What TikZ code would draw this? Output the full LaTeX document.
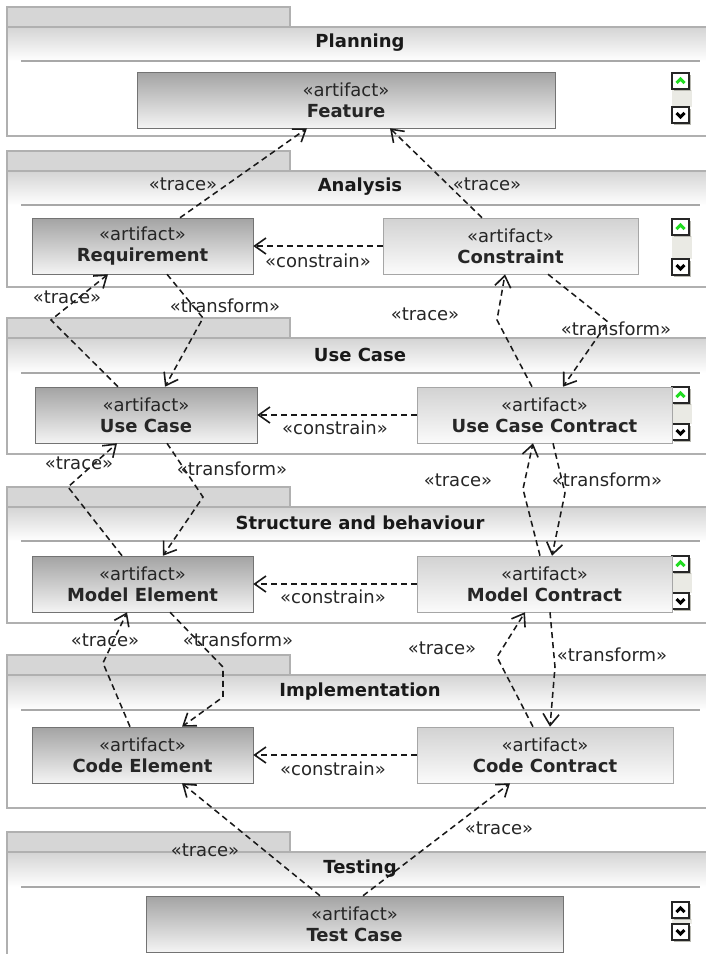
\documentclass[tikz,border=0pt]{standalone}
\usepackage{fontspec}
\setmainfont{DejaVu Sans}
\usetikzlibrary{arrows.meta}
\definecolor{tabgray}{HTML}{D6D6D6}
\definecolor{laneline}{HTML}{B0B0B0}
\definecolor{bandtop}{HTML}{D4D4D4}
\definecolor{rulegray}{HTML}{A8A8A8}
\definecolor{darktop}{HTML}{A3A3A3}
\definecolor{darkbot}{HTML}{F4F4F4}
\definecolor{lighttop}{HTML}{D2D2D2}
\definecolor{lightbot}{HTML}{FBFBFB}
\definecolor{trackgray}{HTML}{EAEAE4}
\definecolor{shadowgray}{HTML}{B8B8B0}
\definecolor{upgreen}{HTML}{22DD22}
\tikzset{art/.append style={draw=black!55,top color=darktop,bottom color=darkbot,
  minimum height=42pt,inner sep=2pt,align=center,text=black!85,
  font=\fontsize{13.5}{16}\selectfont}}
\tikzset{artl/.append style={art,draw=black!35,top color=lighttop,bottom color=lightbot}}
\tikzset{lbl/.append style={inner sep=0pt,text=black!85,font=\fontsize{13.5}{16}\selectfont}}
\tikzset{lanetitle/.append style={inner sep=0pt,text=black!90,font=\fontsize{13.5}{16}\selectfont\bfseries}}
\tikzset{dep/.append style={draw=black!90,line width=1.15pt,dash pattern=on 4.5pt off 3pt,
  -{Straight Barb[length=8.5pt,width=12pt,line width=1.2pt]}}}
% lane: tab top, rule y, bottom, name, title
\newcommand{\lane}[5]{%
  \filldraw[fill=tabgray,draw=laneline,line width=0.9pt] (7,#1) rectangle (290,{#1+20});
  \shade[top color=bandtop,bottom color=white] (7,{#1+20}) rectangle (707,#2);
  \draw[laneline,line width=0.9pt] (7,{#1+20}) rectangle (708,#3);
  \draw[rulegray,line width=0.8pt] (21,#2) -- (700,#2);
  \node[lanetitle] (#4) at (360,{(#1+20+#2)/2-1}) {#5};}
% scroll buttons: up top, down top, up colour
\newcommand{\scrollbtns}[3]{%
  \fill[trackgray] (672,{#1+17}) rectangle (692,#2);
  \foreach \yy/\cc/\dd in {#1/#3/1,#2/black/-1} {
    \fill[shadowgray] (674,{\yy+2}) rectangle (691,{\yy+18});
    \filldraw[fill=white,draw=black!85,line width=0.9pt] (672,\yy) rectangle (689,{\yy+16});
    \draw[\cc,line width=2.2pt] (676.5,{\yy+8+2*\dd}) -- (680.5,{\yy+8-2*\dd}) -- (684.5,{\yy+8+2*\dd});
  }}
\begin{document}
\begin{tikzpicture}[x=0.75pt,y=-0.75pt]
\useasboundingbox (0,0) rectangle (706,954);
% lanes
\lane{7}{61}{136}{planning}{Planning}
\lane{151}{205}{287}{analysis}{Analysis}
\lane{318}{373}{454}{usecase}{Use Case}
\lane{487}{541}{623}{structure}{Structure and behaviour}
\lane{655}{710}{808}{implementation}{Implementation}
\lane{832}{887}{960}{testing}{Testing}
\scrollbtns{73}{107}{upgreen}
\scrollbtns{219}{259}{upgreen}
\scrollbtns{387}{424}{upgreen}
\scrollbtns{556}{593}{upgreen}
\scrollbtns{902}{924}{black}
% artifacts
\node[art,minimum width=313.5pt] (feature) at (346,100) {«artifact»\\\textbf{Feature}};
\node[art,minimum width=165.75pt] (req) at (142.5,246) {«artifact»\\\textbf{Requirement}};
\node[artl,minimum width=191.25pt] (constr) at (510.5,246) {«artifact»\\\textbf{Constraint}};
\node[art,minimum width=166.5pt] (uc) at (146,415) {«artifact»\\\textbf{Use Case}};
\node[artl,minimum width=191.25pt] (ucc) at (544.5,415) {«artifact»\\\textbf{Use Case Contract}};
\node[art,minimum width=165.75pt] (melem) at (142.5,584) {«artifact»\\\textbf{Model Element}};
\node[artl,minimum width=191.25pt] (mcon) at (544.5,584) {«artifact»\\\textbf{Model Contract}};
\node[art,minimum width=165.75pt] (celem) at (142.5,755) {«artifact»\\\textbf{Code Element}};
\node[artl,minimum width=192pt] (ccon) at (545,755) {«artifact»\\\textbf{Code Contract}};
\node[art,minimum width=312.75pt] (tcase) at (354.5,924) {«artifact»\\\textbf{Test Case}};
% dependencies
\draw[dep] (req.north -| 180,0) -- (feature.south -| 307,0);
\draw[dep] (constr.north -| 482,0) -- (feature.south -| 390,0);
\draw[dep] (constr.west) -- (constr.west -| req.east);
\draw[dep] (uc.north -| 118,0) -- (51,320) -- (req.south -| 108,0);
\draw[dep] (req.south -| 167,0) -- (203,318) -- (uc.north -| 165,0);
\draw[dep] (ucc.north -| 532,0) -- (497,320) -- (constr.south -| 505,0);
\draw[dep] (constr.south -| 548,0) -- (608,322) -- (ucc.north -| 563,0);
\draw[dep] (ucc.west) -- (ucc.west -| uc.east);
\draw[dep] (melem.north -| 122,0) -- (68,487) -- (uc.south -| 117,0);
\draw[dep] (uc.south -| 167,0) -- (203,497) -- (melem.north -| 163,0);
\draw[dep] (mcon.north -| 540,0) -- (523,489) -- (ucc.south -| 533,0);
\draw[dep] (ucc.south -| 553,0) -- (565,493) -- (mcon.north -| 552,0);
\draw[dep] (mcon.west) -- (mcon.west -| melem.east);
\draw[dep] (celem.north -| 130,0) -- (103,663) -- (melem.south -| 127,0);
\draw[dep] (melem.south -| 170,0) -- (223,667) -- (223,697) -- (celem.north -| 182,0);
\draw[dep] (ccon.north -| 533,0) -- (497,657) -- (mcon.south -| 525,0);
\draw[dep] (mcon.south -| 550,0) -- (555,667) -- (ccon.north -| 550,0);
\draw[dep] (ccon.west) -- (ccon.west -| celem.east);
\draw[dep] (tcase.north -| 320,0) -- (celem.south -| 182,0);
\draw[dep] (tcase.north -| 363,0) -- (ccon.south -| 510,0);
% labels
\node[lbl] (tr1) at (183,184) {«trace»};
\node[lbl] (tr2) at (487,184) {«trace»};
\node[lbl] (co1) at (318,261) {«constrain»};
\node[lbl] (tr3) at (67,297) {«trace»};
\node[lbl] (tf1) at (225,306) {«transform»};
\node[lbl] (tr4) at (425,314) {«trace»};
\node[lbl] (tf2) at (616,329) {«transform»};
\node[lbl] (co2) at (335,428) {«constrain»};
\node[lbl] (tr5) at (79,463) {«trace»};
\node[lbl] (tf3) at (232,469) {«transform»};
\node[lbl] (tr6) at (458,480) {«trace»};
\node[lbl] (tf4) at (607,480) {«transform»};
\node[lbl] (co3) at (333,597) {«constrain»};
\node[lbl] (tr7) at (105,640) {«trace»};
\node[lbl] (tf5) at (238,640) {«transform»};
\node[lbl] (tr8) at (442,648) {«trace»};
\node[lbl] (tf6) at (612,655) {«transform»};
\node[lbl] (co4) at (333,769) {«constrain»};
\node[lbl] (tr9) at (205,850) {«trace»};
\node[lbl] (tr10) at (499,828) {«trace»};
\end{tikzpicture}
\end{document}
